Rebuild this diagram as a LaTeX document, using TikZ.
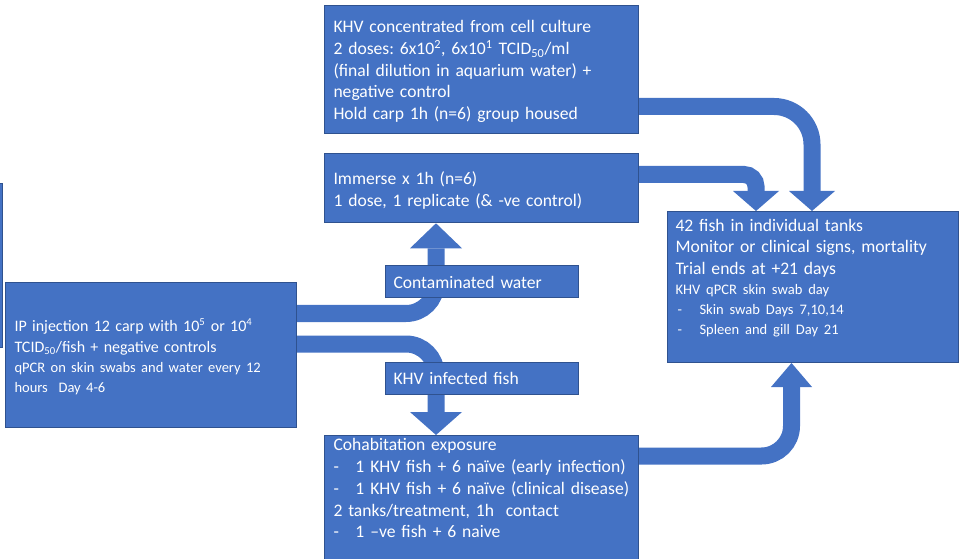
\documentclass[tikz,border=0pt]{standalone}
\usepackage{fontspec}
\setmainfont{Carlito}
\usetikzlibrary{arrows.meta,backgrounds}
\frenchspacing

\newlength\px \setlength\px{0.75pt}
\newcommand\bigtxt{\fontsize{13.2pt}{16.3pt}\selectfont}
\newcommand\midtxt{\fontsize{12pt}{15.75pt}\selectfont}
\newcommand\smalltxt{\fontsize{10.9pt}{15pt}\selectfont}
\newcommand\dashitem{\makebox[22\px][l]{-}}

\definecolor{boxblue}{HTML}{4472C4}
\definecolor{boxedge}{HTML}{2F528F}

\tikzset{
  box/.style={draw=boxedge, line width=0.75pt, fill=boxblue, text=white,
    anchor=north west, align=left, inner xsep=9\px, inner ysep=0pt, font=\bigtxt},
  pipe/.style={draw=boxblue, line width=17\px, rounded corners=#1},
  head/.style 2 args={-{Triangle[length=#1 0 0, width=#2 0 0, line width=0pt 0 0]}},
}

\begin{document}
\begin{tikzpicture}[x=0.75pt, y=-0.75pt]
  \useasboundingbox (0,0) rectangle (966,559);

  % boxes
  \node[box, anchor=north east, minimum width=60\px, minimum height=164\px] (prev) at (3,183) {};
  \node[box, text width=296\px, text height=27.3\px, text depth=100.7\px] (A) at (324,5)
    {KHV concentrated from cell culture\\
     2 doses: 6x10\textsuperscript{2}, 6x10\textsuperscript{1} TCID\textsubscript{50}/ml\\
     (final dilution in aquarium water) +\\
     negative control\\
     Hold carp 1h (n=6) group housed};
  \node[box, text width=296\px, text height=31.3\px, text depth=38\px] (B) at (324,153)
    {Immerse x 1h (n=6)\\
     1 dose, 1 replicate (\& -ve control)};
  \node[box, inner xsep=8\px, text width=177\px, text height=22.7\px, text depth=9.3\px] (C) at (385,265)
    {Contaminated water};
  \node[box, text width=273\px, text height=49\px, text depth=96\px, font=\midtxt] (D) at (5,282)
    {IP injection 12 carp with 10\textsuperscript{5} or 10\textsuperscript{4}\\
     TCID\textsubscript{50}/fish + negative controls\par
     {\smalltxt qPCR on skin swabs and water every 12\\
     hours~~Day 4-6\par}};
  \node[box, inner xsep=8\px, text width=177\px, text height=22.3\px, text depth=9.7\px] (E) at (385,362)
    {KHV infected fish};
  \node[box, text width=296\px, text height=15.3\px, text depth=140\px] (F) at (324,435)
    {Cohabitation exposure\\
     \dashitem 1 KHV fish + 6 naïve (early infection)\\
     \dashitem 1 KHV fish + 6 naïve (clinical disease)\\
     2 tanks/treatment, 1h~ contact\\
     \dashitem 1 –ve fish + 6 naive};
  \node[box, inner xsep=8\px, text width=275\px, text height=19.7\px, text depth=131.3\px] (G) at (667,211)
    {42 fish in individual tanks\\
     Monitor or clinical signs, mortality\\
     Trial ends at +21 days\par
     {\smalltxt KHV qPCR skin swab day\\
     \hspace*{2\px}\dashitem Skin swab Days 7,10,14\\
     \hspace*{2\px}\dashitem Spleen and gill Day 21\par}};

  % block arrows
  \begin{scope}[on background layer]
    \draw[pipe=30\px, head={18.75pt}{39pt}] (D.east |- 0,313.5) -- (436,313.5) -- (B.south -| 436,0);
    \draw[pipe=30\px, head={17.25pt}{39pt}] (D.east |- 0,344) -- (436,344) -- (F.north -| 436,0);
    \draw[pipe=38\px, head={15pt}{34.5pt}] (A.east |- 0,106.5) -- (812,106.5) -- (G.north -| 812,0);
    \draw[pipe=12\px, head={15pt}{34.5pt}] (B.east |- 0,174.5) -- (756,174.5) -- (G.north -| 756,0);
    \draw[pipe=30\px, head={18pt}{30.75pt}] (F.east |- 0,456) -- (791.5,456) -- (G.south -| 791.5,0);
  \end{scope}
\end{tikzpicture}
\end{document}
